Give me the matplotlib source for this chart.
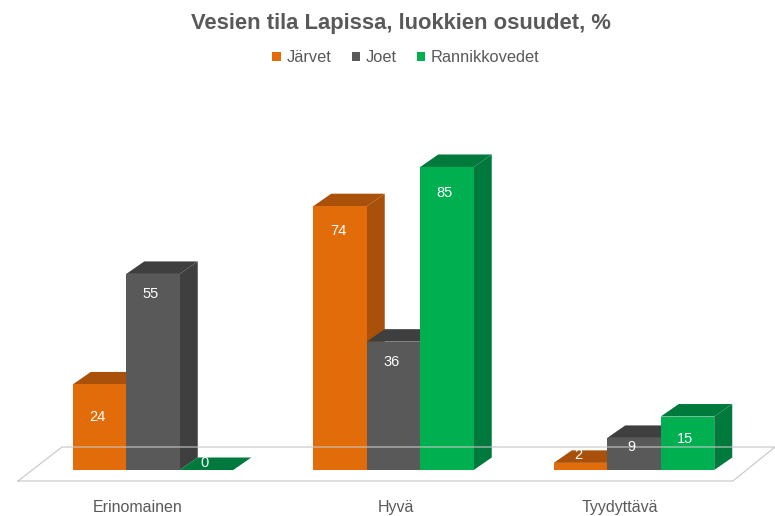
import matplotlib
matplotlib.use('Agg')
import matplotlib.pyplot as plt
from matplotlib.patches import Polygon, Patch

plt.rcParams['font.family'] = ['Liberation Sans', 'DejaVu Sans']

categories = ['Erinomainen', 'Hyvä', 'Tyydyttävä']
series_names = ['Järvet', 'Joet', 'Rannikkovedet']
jarvet = [24, 74, 2]
joet = [55, 36, 9]
rannikkovedet = [0, 85, 15]
series_values = [jarvet, joet, rannikkovedet]

front_colors = ['#E36C0A', '#595959', '#00B050']
dark_colors = ['#A9510A', '#3F3F3F', '#007A3C']
text_color = '#595959'

# size of the canvas and of the value/category units, in pixels
WIDTH = 775
HEIGHT = 516
AX_BOTTOM = 490
BASE_Y = 470
GROUP_STEP = 240.5
UNIT_Y = 3.565
FIRST_GROUP = 153

bar_w = 53.5 / GROUP_STEP
depth_x = 18 / GROUP_STEP
depth_y = 12.5 / UNIT_Y

# how far each value label sits below the top of its bar, in pixels
label_drop = [[33, 20, -7], [25, 20, 26], [-8, 9, 22]]
# category labels are not quite centred under their groups
tick_pos = [-0.066, 1.012, 1.94]


def draw_bar(ax, x, value, front, dark):
    # one 3D looking column: right side, lid, then the front face
    x0 = x - bar_w / 2
    x1 = x + bar_w / 2
    side = [(x1, 0), (x1 + depth_x, depth_y), (x1 + depth_x, value + depth_y), (x1, value)]
    lid = [(x0, value), (x0 + depth_x, value + depth_y), (x1 + depth_x, value + depth_y), (x1, value)]
    face = [(x0, 0), (x0, value), (x1, value), (x1, 0)]
    ax.add_patch(Polygon(side, closed=True, fc=dark, ec='none'))
    ax.add_patch(Polygon(lid, closed=True, fc=dark, ec='none'))
    ax.add_patch(Polygon(face, closed=True, fc=front, ec='none'))


def draw_floor(ax):
    # grey outlined floor under the columns, open towards the picture edge
    front_y = -11 / UNIT_Y
    back_y = 23 / UNIT_Y
    xs = [(18 - FIRST_GROUP) / GROUP_STEP, (62 - FIRST_GROUP) / GROUP_STEP,
          (775 - FIRST_GROUP) / GROUP_STEP, (733 - FIRST_GROUP) / GROUP_STEP]
    ys = [front_y, back_y, back_y, front_y]
    ax.plot(xs + xs[:1], ys + ys[:1], color='#C6C6C6', lw=0.8, clip_on=False)


fig = plt.figure(figsize=(WIDTH / 100, HEIGHT / 100), dpi=100)
ax = fig.add_axes([0, (HEIGHT - AX_BOTTOM) / HEIGHT, 1, AX_BOTTOM / HEIGHT])
ax.set_xlim(-FIRST_GROUP / GROUP_STEP, (WIDTH - FIRST_GROUP) / GROUP_STEP)
ax.set_ylim(-(AX_BOTTOM - BASE_Y) / UNIT_Y, BASE_Y / UNIT_Y)

draw_floor(ax)

for g in range(len(categories)):
    for s in range(len(series_names)):
        x = g + (s - 1) * bar_w
        draw_bar(ax, x, series_values[s][g], front_colors[s], dark_colors[s])

# labels go on last so no column covers them
for g in range(len(categories)):
    for s in range(len(series_names)):
        x = g + (s - 1) * bar_w
        ax.annotate(str(series_values[s][g]), (x, series_values[s][g]),
                    xytext=(-1.5, -label_drop[g][s] * 0.72), textcoords='offset points',
                    ha='center', va='center', color='white', fontsize=10.5)

for name in ['top', 'right', 'left', 'bottom']:
    ax.spines[name].set_visible(False)
ax.set_yticks([])
ax.set_xticks(tick_pos)
ax.set_xticklabels(categories, color=text_color, fontsize=11.5)
ax.tick_params(axis='x', length=0, pad=7)

fig.text(401 / WIDTH, 1 - 23 / HEIGHT, 'Vesien tila Lapissa, luokkien osuudet, %',
         ha='center', va='center', color=text_color, fontsize=15.8, fontweight='bold')

handles = [Patch(fc=c, ec='none') for c in front_colors]
fig.legend(handles, series_names, ncol=3, frameon=False, loc='center',
           bbox_to_anchor=(406 / WIDTH, 1 - 58 / HEIGHT), fontsize=11.8,
           labelcolor=text_color, handlelength=0.5, handleheight=0.5,
           handletextpad=0.35, columnspacing=1.25)

fig.savefig('out.png', dpi=100)
